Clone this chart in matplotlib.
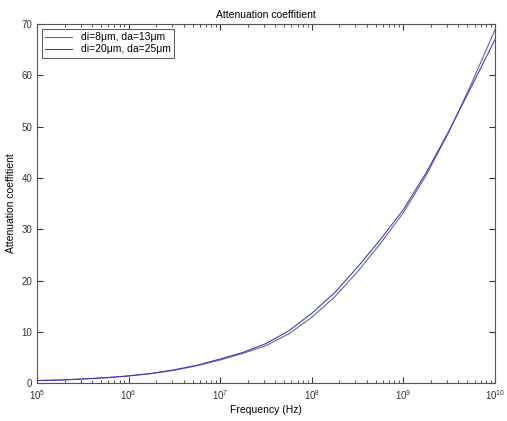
import matplotlib
matplotlib.use("Agg")
import matplotlib.pyplot as plt
import numpy as np

plt.rcParams["font.family"] = ["Liberation Sans", "DejaVu Sans"]

# log10 of frequency (Hz) at quarter-decade steps
log_freq = [5.0, 5.25, 5.5, 5.75, 6.0, 6.25, 6.5, 6.75, 7.0, 7.25, 7.5,
            7.75, 8.0, 8.25, 8.5, 8.75, 9.0, 9.25, 9.5, 9.75, 10.0]

atten_8_13 = [0.5, 0.6, 0.8, 1.05, 1.4, 1.85, 2.5, 3.4, 4.5, 5.8, 7.3,
              9.6, 12.8, 16.8, 21.7, 27.2, 33.2, 40.5, 49.0, 58.6, 68.8]
atten_20_25 = [0.5, 0.6, 0.8, 1.05, 1.4, 1.9, 2.6, 3.5, 4.7, 6.0, 7.7,
               10.2, 13.6, 17.6, 22.6, 28.0, 33.8, 41.0, 49.2, 58.0, 66.9]

labels = ["di=8\u03bcm, da=13\u03bcm", "di=20\u03bcm, da=25\u03bcm"]

freq = np.power(10.0, log_freq)

fig = plt.figure(figsize=(5.07, 4.21), dpi=100)
ax = fig.add_axes([0.073, 0.090, 0.903, 0.853])

ax.semilogx(freq, atten_8_13, color="#5c5c9c", lw=0.75, label=labels[0])
ax.semilogx(freq, atten_20_25, color="#3535c8", lw=0.75, label=labels[1])

ax.set_xlim(1e5, 1e10)
ax.set_ylim(0, 70)
ax.set_yticks(range(0, 71, 10))

ax.tick_params(which="both", direction="in", top=True, right=True,
               labelsize=7, colors="#333333")
ax.tick_params(which="major", length=4)
ax.tick_params(which="minor", length=2)
for s in ax.spines.values():
    s.set_color("#555555")
    s.set_linewidth(0.8)

ax.set_title("Attenuation coeffitient", fontsize=7.5, pad=4)
ax.set_xlabel("Frequency (Hz)", fontsize=7.5, labelpad=2)
ax.set_ylabel("Attenuation coeffitient", fontsize=7.5, labelpad=4)

leg = ax.legend(loc="upper left", fontsize=7.5, fancybox=False,
                edgecolor="#555555", framealpha=1, handlelength=2.6,
                borderaxespad=0.5, borderpad=0.3, labelspacing=0.2)
leg.get_frame().set_linewidth(0.7)

fig.savefig("out.png", dpi=100)
